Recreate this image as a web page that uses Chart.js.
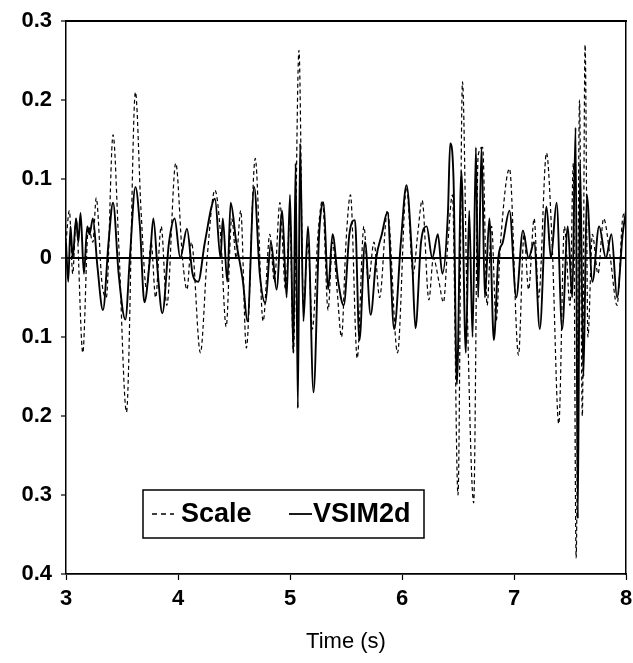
<!DOCTYPE html>
<html>
<head>
<meta charset="utf-8">
<script src="https://cdn.jsdelivr.net/npm/chart.js@4.4.1/dist/chart.umd.min.js"></script>
<style>
  html, body { margin: 0; padding: 0; background: #fff; }
  #wrap { width: 633px; height: 663px; }
</style>
</head>
<body>
<div id="wrap"><canvas id="chart" width="633" height="663"></canvas></div>
<script>
// time axis ticks (s) and value ticks
const xTicks = [3, 4, 5, 6, 7, 8];
const yTicks = [0.3, 0.2, 0.1, 0, -0.1, -0.2, -0.3, -0.4];

// "Scale" series (dashed) at its peaks and troughs
const scaleTime = [
  3.00, 3.03, 3.06, 3.09, 3.15, 3.20, 3.24, 3.27, 3.32, 3.36,
  3.42, 3.47, 3.54, 3.62, 3.67, 3.72, 3.76, 3.80, 3.85, 3.90,
  3.98, 4.04, 4.08, 4.12, 4.20, 4.26, 4.33, 4.38, 4.43, 4.48,
  4.52, 4.56, 4.61, 4.69, 4.76, 4.82, 4.86, 4.91, 4.96, 5.00,
  5.03, 5.08, 5.12, 5.16, 5.20, 5.25, 5.29, 5.34, 5.38, 5.42,
  5.46, 5.50, 5.54, 5.60, 5.66, 5.70, 5.75, 5.80, 5.87, 5.96,
  6.04, 6.10, 6.14, 6.18, 6.24, 6.28, 6.33, 6.37, 6.41, 6.45,
  6.50, 6.54, 6.58, 6.64, 6.68, 6.72, 6.76, 6.80, 6.84, 6.88,
  6.96, 7.04, 7.09, 7.13, 7.18, 7.22, 7.29, 7.34, 7.40, 7.45,
  7.50, 7.53, 7.555, 7.585, 7.61, 7.635, 7.66, 7.70, 7.75, 7.80,
  7.86, 7.92, 7.97, 8.00
];
const scaleValues = [
  0.02, 0.06, -0.02, 0.05, -0.12, 0.04, 0.02, 0.076, -0.03, -0.05,
  0.156, 0.02, -0.195, 0.21, 0.06, -0.04, 0.02, -0.05, 0.04, -0.06,
  0.12, 0.0, -0.04, 0.02, -0.12, 0.0, 0.086, 0.03, -0.087, 0.05,
  0.0, 0.06, -0.114, 0.126, -0.08, 0.03, -0.03, 0.07, -0.04, 0.05,
  -0.12, 0.263, -0.06, 0.02, -0.09, 0.03, 0.073, -0.066, 0.02, -0.04,
  -0.10, 0.02, 0.08, -0.127, 0.04, -0.03, 0.02, -0.05, 0.06, -0.12,
  0.09, -0.02, 0.03, 0.073, -0.053, 0.0, -0.03, -0.056, 0.02, 0.08,
  -0.30, 0.223, -0.05, -0.31, 0.13, 0.14, -0.06, 0.04, -0.08, 0.02,
  0.113, -0.123, 0.03, -0.04, 0.05, -0.05, 0.133, 0.02, -0.21, 0.04,
  -0.06, 0.12, -0.38, 0.2, -0.2, 0.27, -0.1, 0.03, -0.02, 0.05,
  0.0, -0.06, 0.05, 0.06
];

// "VSIM2d" series (solid)
const vsimTime = [
  3.00, 3.02, 3.04, 3.06, 3.09, 3.11, 3.13, 3.16, 3.19, 3.21,
  3.24, 3.28, 3.33, 3.38, 3.42, 3.47, 3.53, 3.57, 3.62, 3.66,
  3.70, 3.75, 3.78, 3.82, 3.86, 3.92, 3.97, 4.02, 4.08, 4.13,
  4.18, 4.24, 4.33, 4.38, 4.40, 4.44, 4.47, 4.52, 4.58, 4.62,
  4.68, 4.73, 4.78, 4.83, 4.88, 4.93, 4.97, 5.00, 5.03, 5.05,
  5.07, 5.09, 5.12, 5.16, 5.21, 5.26, 5.30, 5.34, 5.38, 5.43,
  5.48, 5.53, 5.58, 5.62, 5.67, 5.72, 5.77, 5.82, 5.87, 5.93,
  5.99, 6.04, 6.09, 6.12, 6.17, 6.22, 6.27, 6.32, 6.36, 6.41,
  6.43, 6.46, 6.49, 6.53, 6.57, 6.60, 6.63, 6.66, 6.68, 6.71,
  6.74, 6.78, 6.82, 6.86, 6.90, 6.96, 7.02, 7.08, 7.13, 7.18,
  7.23, 7.29, 7.33, 7.38, 7.43, 7.48, 7.52, 7.55, 7.57, 7.59,
  7.62, 7.65, 7.70, 7.76, 7.82, 7.87, 7.92, 7.97, 8.00
];
const vsimValues = [
  0.02, -0.03, 0.04, 0.0, 0.05, 0.02, 0.057, -0.02, 0.04, 0.03,
  0.05, -0.01, -0.066, 0.02, 0.07, -0.02, -0.078, 0.0, 0.09, 0.04,
  -0.056, 0.0, 0.05, -0.02, -0.07, 0.02, 0.05, 0.0, 0.037, -0.02,
  -0.03, 0.02, 0.075, 0.0, 0.05, -0.03, 0.07, 0.02, -0.03, -0.08,
  0.09, -0.02, -0.057, 0.02, -0.04, 0.06, -0.05, 0.08, -0.12, 0.12,
  -0.19, 0.145, -0.08, 0.04, -0.17, 0.03, 0.07, -0.04, 0.03, -0.03,
  -0.06, 0.03, 0.048, -0.104, 0.02, -0.072, 0.0, 0.03, 0.058, -0.09,
  0.02, 0.092, 0.0, -0.089, 0.02, 0.04, 0.0, 0.03, -0.02, 0.057,
  0.145, 0.1, -0.16, 0.11, -0.12, 0.06, -0.1, 0.14, -0.05, 0.14,
  -0.05, 0.05, -0.104, 0.0, 0.02, 0.06, -0.05, 0.035, 0.0, 0.02,
  -0.09, 0.065, 0.0, 0.07, -0.09, 0.04, -0.05, 0.165, -0.33, 0.12,
  -0.15, 0.08, -0.03, 0.04, 0.0, 0.03, -0.05, 0.03, 0.06
];

const toPoints = (times, values) => times.map((t, i) => ({ x: t, y: values[i] }));

// legend box drawn inside the plot, like the original
const boxLegend = {
  id: 'boxLegend',
  afterDraw(chart) {
    const { ctx, chartArea } = chart;
    const left = chartArea.left + 77;
    const top = chartArea.bottom - 84;
    const w = 281, h = 48;
    const mid = top + h / 2;
    ctx.save();
    ctx.fillStyle = '#fff';
    ctx.fillRect(left, top, w, h);
    ctx.strokeStyle = '#000';
    ctx.lineWidth = 1.5;
    ctx.strokeRect(left, top, w, h);

    ctx.lineWidth = 1.3;
    ctx.setLineDash([5, 4]);
    ctx.beginPath();
    ctx.moveTo(left + 9, mid);
    ctx.lineTo(left + 31, mid);
    ctx.stroke();

    ctx.setLineDash([]);
    ctx.lineWidth = 1.8;
    ctx.beginPath();
    ctx.moveTo(left + 146, mid);
    ctx.lineTo(left + 169, mid);
    ctx.stroke();

    ctx.fillStyle = '#000';
    ctx.font = 'bold 27px "Liberation Sans", Arial, sans-serif';
    ctx.textBaseline = 'middle';
    ctx.fillText('Scale', left + 38, mid + 1);
    ctx.fillText('VSIM2d', left + 170, mid + 1);
    ctx.restore();
  }
};

const tickFont = { family: '"Liberation Sans", Arial, sans-serif', size: 22, weight: 'bold' };

new Chart(document.getElementById('chart').getContext('2d'), {
  type: 'line',
  data: {
    datasets: [
      {
        label: 'Scale',
        data: toPoints(scaleTime, scaleValues),
        borderColor: '#000',
        borderWidth: 1.2,
        borderDash: [4, 3],
        pointRadius: 0,
        cubicInterpolationMode: 'monotone',
        fill: false
      },
      {
        label: 'VSIM2d',
        data: toPoints(vsimTime, vsimValues),
        borderColor: '#000',
        borderWidth: 1.9,
        pointRadius: 0,
        cubicInterpolationMode: 'monotone',
        fill: false
      }
    ]
  },
  options: {
    responsive: false,
    animation: false,
    layout: { padding: 0 },
    plugins: { legend: { display: false }, tooltip: { enabled: false } },
    scales: {
      x: {
        type: 'linear',
        min: 3,
        max: 8,
        afterBuildTicks: (s) => { s.ticks = xTicks.map(v => ({ value: v })); },
        afterFit: (s) => { s.height = 89; s.paddingLeft = 0; s.paddingRight = 0; },
        ticks: { color: '#000', font: tickFont, padding: 6 },
        grid: { drawOnChartArea: false, tickColor: '#000', tickLength: 6, tickWidth: 1.2 },
        border: { display: true, color: '#000', width: 1.8 },
        title: {
          display: true,
          text: 'Time (s)',
          color: '#000',
          font: { family: '"Liberation Sans", Arial, sans-serif', size: 22 },
          padding: { top: 0, bottom: 8 }
        }
      },
      xTop: {
        type: 'linear',
        position: 'top',
        min: 3,
        max: 8,
        afterFit: (s) => { s.height = 21; s.paddingLeft = 0; s.paddingRight = 0; },
        ticks: { display: false },
        grid: { display: false },
        border: { display: true, color: '#000', width: 2 }
      },
      y: {
        type: 'linear',
        min: -0.4,
        max: 0.3,
        afterBuildTicks: (s) => { s.ticks = yTicks.map(v => ({ value: v })); },
        afterFit: (s) => { s.width = 66; s.paddingTop = 0; s.paddingBottom = 0; },
        ticks: {
          color: '#000',
          font: tickFont,
          padding: 9,
          callback: (v) => (Math.abs(v) < 1e-9 ? '0' : Math.abs(v).toFixed(1))
        },
        grid: {
          color: (c) => (c.tick && Math.abs(c.tick.value) < 1e-9 ? '#000' : 'rgba(0,0,0,0)'),
          lineWidth: (c) => (c.tick && Math.abs(c.tick.value) < 1e-9 ? 2 : 0),
          tickColor: '#000',
          tickLength: 5,
          tickWidth: 1.2
        },
        border: { display: true, color: '#000', width: 1.5 }
      },
      yRight: {
        type: 'linear',
        position: 'right',
        min: -0.4,
        max: 0.3,
        afterFit: (s) => { s.width = 7; s.paddingTop = 0; s.paddingBottom = 0; },
        ticks: { display: false },
        grid: { display: false },
        border: { display: true, color: '#000', width: 1.5, dash: [2, 3] }
      }
    }
  },
  plugins: [boxLegend]
});
</script>
</body>
</html>
